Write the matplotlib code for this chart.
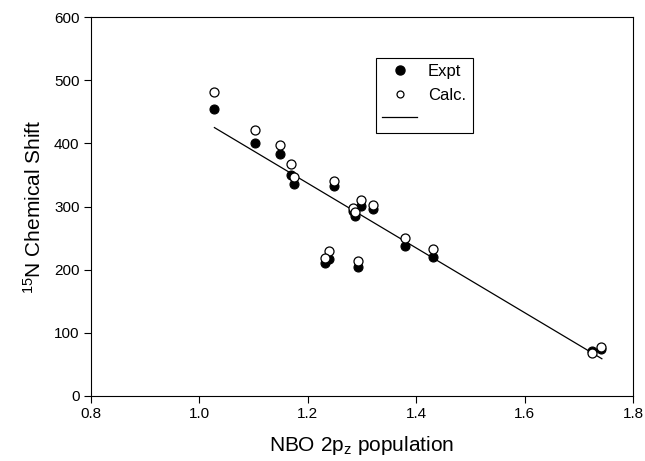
import matplotlib
matplotlib.use("Agg")
import matplotlib.pyplot as plt
from matplotlib.lines import Line2D
import numpy as np

plt.rcParams['font.family'] = ['Liberation Sans', 'DejaVu Sans']
plt.rcParams['mathtext.fontset'] = 'custom'
plt.rcParams['mathtext.rm'] = 'Liberation Sans'
plt.rcParams['mathtext.it'] = 'Liberation Sans:italic'

# NBO 2pz population of the nitrogen, with measured and computed 15N shifts
nbo_pop = [1.028, 1.103, 1.149, 1.170, 1.174, 1.249, 1.283, 1.288, 1.299,
           1.320, 1.379, 1.431, 1.240, 1.231, 1.292, 1.723, 1.740]
shift_expt = [454, 400, 383, 350, 336, 332, 293, 285, 301,
              296, 237, 220, 217, 210, 204, 71, 75]
shift_calc = [481, 421, 397, 367, 346, 341, 298, 292, 310,
              302, 250, 232, 230, 218, 213, 68, 77]

# end points of the linear fit
fit_x = [1.028, 1.742]
fit_y = [425, 59]

fig = plt.figure(figsize=(6.45, 4.61), dpi=100)
ax = fig.add_axes([0.1406, 0.141, 0.8413, 0.822])

ax.scatter(nbo_pop, shift_expt, s=42, c='black', edgecolors='black',
           linewidths=0.8, zorder=3)
ax.scatter(nbo_pop, shift_calc, s=42, c='white', edgecolors='black',
           linewidths=0.9, zorder=4)
ax.plot(fit_x, fit_y, color='black', lw=0.9, zorder=2)

ax.set_xlim(0.8, 1.8)
ax.set_ylim(0, 600)
ax.set_xticks(np.arange(0.8, 1.81, 0.2))
ax.set_yticks(np.arange(0, 601, 100))
ax.set_xticklabels(['%.1f' % v for v in np.arange(0.8, 1.81, 0.2)])
ax.tick_params(direction='out', length=5, width=0.8, labelsize=11,
               top=False, right=False, pad=3)
for sp in ax.spines.values():
    sp.set_linewidth(0.8)

ax.set_xlabel(r'NBO 2p$\mathregular{_z}$ population', fontsize=15, labelpad=9)
ax.set_ylabel(r'$\mathregular{^{15}}$N Chemical Shift', fontsize=15, labelpad=7)

handles = [
    Line2D([], [], ls='none', marker='o', ms=6.5, mfc='black', mec='black'),
    Line2D([], [], ls='none', marker='o', ms=5, mfc='white', mec='black', mew=0.9),
    Line2D([], [], color='black', lw=0.9),
]
leg = ax.legend(handles, ['Expt', 'Calc.', ''], loc='upper left',
                bbox_to_anchor=(0.525, 0.893), fontsize=12, frameon=True,
                fancybox=False, edgecolor='black', framealpha=1,
                handlelength=2.1, handletextpad=0.65, borderpad=0.4,
                labelspacing=0.5, borderaxespad=0)
leg.get_frame().set_linewidth(0.8)

fig.savefig('out.png', dpi=100)
